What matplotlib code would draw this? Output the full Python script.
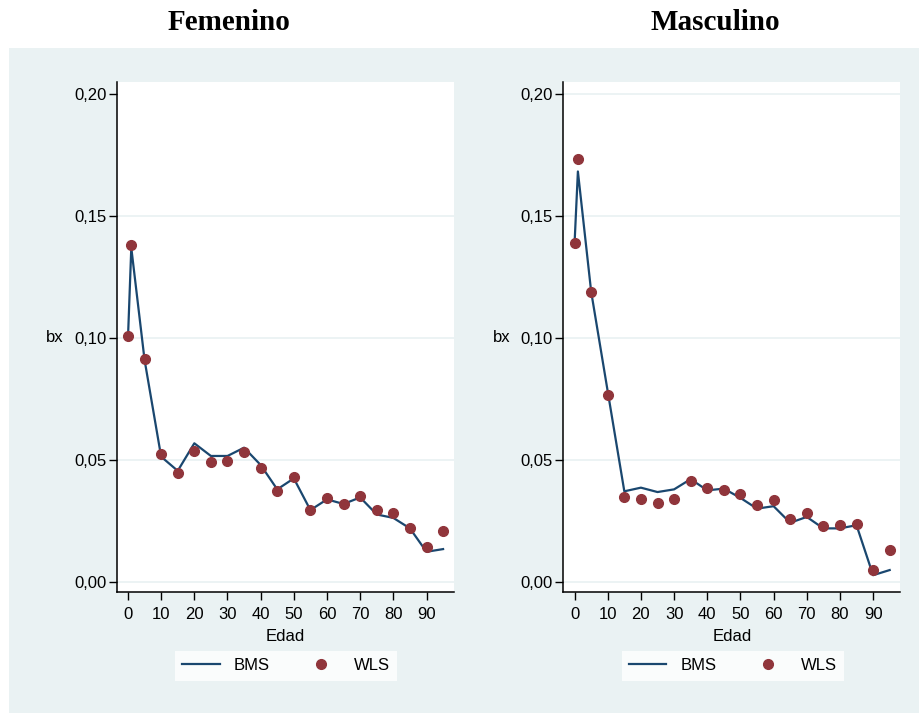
import matplotlib
matplotlib.use('Agg')
import matplotlib.pyplot as plt
from matplotlib.lines import Line2D
from matplotlib.patches import Rectangle
from matplotlib.ticker import FuncFormatter

# edades (0, 1, 5, 10, ..., 95)
edad = [0, 1, 5, 10, 15, 20, 25, 30, 35, 40, 45, 50, 55, 60, 65, 70, 75, 80, 85, 90, 95]

# Femenino
fem_bms = [0.100, 0.137, 0.091, 0.0513, 0.0455, 0.0568, 0.0516, 0.0516, 0.0550, 0.0479, 0.0379,
           0.0424, 0.0294, 0.0338, 0.0319, 0.0346, 0.0276, 0.0262, 0.0219, 0.0123, 0.0134]
fem_wls = [0.1007, 0.138, 0.0912, 0.0523, 0.0445, 0.0535, 0.0491, 0.0495, 0.0533, 0.0468, 0.0373,
           0.0431, 0.0293, 0.0342, 0.0319, 0.0353, 0.0295, 0.0282, 0.0219, 0.0141, 0.0208]

# Masculino
mas_bms = [0.139, 0.1683, 0.119, 0.078, 0.0371, 0.0386, 0.0368, 0.0379, 0.0421, 0.0375, 0.0382,
           0.0344, 0.0300, 0.0310, 0.0242, 0.0266, 0.0219, 0.0219, 0.0232, 0.0027, 0.0048]
mas_wls = [0.139, 0.1736, 0.119, 0.0765, 0.0348, 0.0339, 0.0322, 0.0339, 0.0414, 0.0386, 0.0376,
           0.0362, 0.0314, 0.0335, 0.0258, 0.0284, 0.0228, 0.0232, 0.0235, 0.0048, 0.0130]

titles = ['Femenino', 'Masculino']
xticks = [0, 10, 20, 30, 40, 50, 60, 70, 80, 90]
yticks = [0.00, 0.05, 0.10, 0.15, 0.20]

navy = '#1A476F'
maroon = '#90353B'
bg = '#EAF2F3'
fs = 12

plt.rcParams['font.family'] = ['Liberation Sans', 'DejaVu Sans']

W, H = 920, 713
fig = plt.figure(figsize=(9.2, 7.13), dpi=100)
fig.patch.set_facecolor('white')
fig.add_artist(Rectangle((9 / W, 0), 1 - 9 / W, 1 - 48 / H, transform=fig.transFigure,
                         facecolor=bg, edgecolor='none', zorder=0))


def make_panel(left_px, title, title_x, bms, wls, grid_vals):
    ax = fig.add_axes([left_px / W, 1 - 592 / H, 337 / W, 510 / H])
    ax.set_facecolor('white')
    ax.set_xlim(-3.4, 98.2)
    ax.set_ylim(-0.0042, 0.205)
    for v in grid_vals:
        ax.axhline(v, color=bg, lw=1.3, zorder=1)
    ax.plot(edad, bms, color=navy, lw=1.6, zorder=3)
    ax.plot(edad, wls, 'o', color=maroon, ms=7, zorder=4)
    ax.set_xticks(xticks)
    ax.set_yticks(yticks)
    ax.yaxis.set_major_formatter(FuncFormatter(lambda v, p: ('%.2f' % v).replace('.', ',')))
    ax.tick_params(direction='out', length=6, width=1, colors='black', labelsize=fs)
    ax.tick_params(axis='y', pad=1.5)
    ax.tick_params(axis='x', pad=4.5)
    for s in ['top', 'right']:
        ax.spines[s].set_visible(False)
    for s in ['left', 'bottom']:
        ax.spines[s].set_linewidth(1.1)
    ax.set_ylabel('bx', rotation=0, fontsize=fs, va='center', ha='center')
    ax.yaxis.set_label_coords(-0.183, 0.5)
    ax.text(0.5, -0.0876, 'Edad', transform=ax.transAxes, ha='center', va='center', fontsize=fs)
    fig.text(title_x / W, 1 - 23 / H, title, ha='center', va='center',
             fontsize=21, fontweight='bold', family='Liberation Serif')

    handles = [Line2D([], [], color=navy, lw=1.6),
               Line2D([], [], ls='none', marker='o', color=maroon, ms=7)]
    leg = fig.legend(handles, ['BMS', 'WLS'], ncol=2, loc='center',
                     bbox_to_anchor=((left_px + 169.5) / W, 1 - 665.5 / H),
                     frameon=True, fancybox=False, fontsize=fs, handlelength=2.24,
                     handletextpad=0.85, columnspacing=1.95, borderpad=0.45)
    leg.get_frame().set_facecolor('white')
    leg.get_frame().set_edgecolor('none')
    return ax


make_panel(116.7, titles[0], 229, fem_bms, fem_wls, yticks[:-1])
make_panel(563.3, titles[1], 715, mas_bms, mas_wls, yticks)

fig.savefig('out.png', dpi=100, facecolor=fig.get_facecolor())
